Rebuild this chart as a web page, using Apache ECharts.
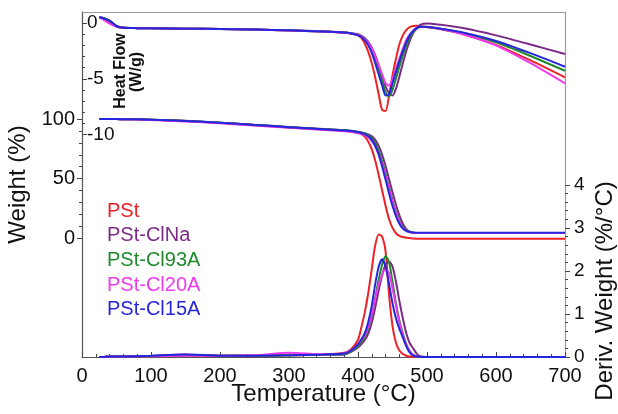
<!DOCTYPE html>
<html>
<head>
<meta charset="utf-8">
<script src="https://cdn.jsdelivr.net/npm/echarts@6/dist/echarts.min.js"></script>
<style>
  html, body { margin: 0; padding: 0; background: #fff; }
  .main { width: 618px; height: 414px; }
</style>
</head>
<body>
<div class="main" id="main"></div>
<script>
// temperature grid (°C) shared by all curves
var temps = [25, 30, 40, 50, 60, 80, 100, 150, 200, 250, 300, 350, 380, 390, 400, 405, 410, 415, 420, 425,
    430, 435, 440, 445, 450, 455, 460, 465, 470, 475, 480, 485, 490, 500, 520, 550, 600, 650, 700];

var names = ['PSt', 'PSt-ClNa', 'PSt-Cl93A', 'PSt-Cl20A', 'PSt-Cl15A'];
var colors = ['#ec2227', '#7b2a88', '#1f8a2c', '#ee3aee', '#2626dc'];

// heat flow (W/g)
var hfPSt   = [0.55, 0.4, 0.0, -0.3, -0.42, -0.45, -0.46, -0.5, -0.53, -0.58, -0.66, -0.76, -0.86, -0.93, -1.1, -1.35, -1.85, -2.6, -3.6, -4.9,
    -6.4, -7.8, -7.9, -6.5, -4.7, -3.2, -1.9, -1.1, -0.6, -0.35, -0.25, -0.24, -0.27, -0.35, -0.55, -0.95, -1.95, -3.35, -4.87];
var hfClNa  = [0.5, 0.48, 0.2, -0.25, -0.4, -0.45, -0.46, -0.5, -0.53, -0.58, -0.65, -0.74, -0.84, -0.9, -1.0, -1.15, -1.35, -1.7, -2.2, -2.9,
    -3.8, -4.8, -5.7, -6.3, -6.5, -5.9, -4.8, -3.6, -2.5, -1.6, -0.9, -0.45, -0.15, -0.03, -0.15, -0.42, -1.1, -1.92, -2.78];
var hfCl93A = [0.5, 0.48, 0.2, -0.25, -0.4, -0.45, -0.46, -0.5, -0.53, -0.58, -0.65, -0.75, -0.85, -0.92, -1.05, -1.2, -1.45, -1.85, -2.4, -3.2,
    -4.2, -5.2, -6.2, -6.6, -6.0, -5.0, -3.9, -2.9, -2.0, -1.3, -0.8, -0.5, -0.35, -0.33, -0.5, -0.85, -1.72, -2.95, -4.28];
var hfCl20A = [0.6, 0.35, -0.05, -0.3, -0.42, -0.45, -0.46, -0.5, -0.53, -0.58, -0.66, -0.76, -0.87, -0.94, -1.05, -1.2, -1.45, -1.8, -2.3, -3.0,
    -3.8, -4.6, -5.4, -5.6, -5.0, -4.1, -3.2, -2.3, -1.5, -1.0, -0.65, -0.42, -0.33, -0.35, -0.52, -0.95, -2.0, -3.6, -5.41];
var hfCl15A = [0.5, 0.45, 0.22, -0.28, -0.42, -0.45, -0.46, -0.5, -0.53, -0.58, -0.65, -0.75, -0.85, -0.93, -1.1, -1.25, -1.55, -2.0, -2.7, -3.6,
    -4.6, -5.6, -6.5, -6.4, -5.4, -4.4, -3.4, -2.5, -1.7, -1.1, -0.7, -0.45, -0.33, -0.35, -0.5, -0.82, -1.6, -2.7, -3.92];

// weight (%)
var wPSt   = [100, 100, 100, 100, 99.9, 99.8, 99.5, 98.3, 96.8, 94.8, 93.0, 91.2, 90.2, 89.6, 88.5, 87.3, 85.0, 81.0, 74.5, 65,
    53, 40, 27, 16, 8.5, 4, 1.8, 0.8, 0.3, 0, -0.3, -0.5, -0.5, -0.5, -0.5, -0.5, -0.5, -0.5, -0.5];
var wClNa  = [100, 100, 100, 100, 99.9, 99.8, 99.5, 98.5, 97.0, 95.2, 93.4, 91.7, 90.7, 90.2, 89.3, 88.8, 88.2, 87.2, 85.5, 82.5,
    77.5, 70, 60.5, 49.5, 38.5, 28, 19, 12, 7.5, 5.3, 4.5, 4.3, 4.3, 4.3, 4.3, 4.3, 4.3, 4.3, 4.3];
var wCl93A = [100, 100, 100, 100, 99.9, 99.8, 99.5, 98.4, 96.9, 95.0, 93.2, 91.5, 90.5, 90.0, 89.2, 88.6, 87.8, 86.3, 84, 80,
    73.5, 64.5, 54, 42.5, 31.5, 22, 14.5, 9.5, 6.5, 5, 4.5, 4.3, 4.3, 4.3, 4.3, 4.3, 4.3, 4.3, 4.3];
var wCl20A = [100, 100, 100, 100, 99.9, 99.7, 99.3, 98.0, 96.4, 94.5, 92.7, 90.9, 89.8, 89.2, 88.3, 87.5, 86.3, 84.5, 81.5, 77,
    70.5, 62, 52, 41, 30.5, 21, 13.5, 8.5, 6, 4.8, 4.3, 4.2, 4.2, 4.2, 4.2, 4.2, 4.2, 4.2, 4.2];
var wCl15A = [100, 100, 100, 100, 99.9, 99.8, 99.5, 98.4, 96.9, 95.0, 93.2, 91.4, 90.4, 89.9, 89.0, 88.3, 87.2, 85.5, 82.5, 77.5,
    70, 60, 49, 37.5, 27, 18.5, 12, 8, 6, 5, 4.6, 4.5, 4.5, 4.5, 4.5, 4.5, 4.5, 4.5, 4.5];

// derivative weight (%/°C)
var dPSt   = [0, 0, 0.01, 0.01, 0.01, 0.02, 0.02, 0.03, 0.03, 0.03, 0.04, 0.06, 0.1, 0.18, 0.4, 0.7, 1.05, 1.5, 2.05, 2.6,
    2.85, 2.8, 2.45, 1.45, 0.72, 0.33, 0.15, 0.07, 0.03, 0.01, 0, 0, 0, 0, 0, 0, 0, 0, 0];
var dClNa  = [0, 0, 0.01, 0.01, 0.01, 0.02, 0.03, 0.06, 0.03, 0.03, 0.04, 0.05, 0.06, 0.12, 0.22, 0.3, 0.4, 0.55, 0.8, 1.15,
    1.55, 1.9, 2.15, 2.22, 2.1, 1.75, 1.3, 0.9, 0.55, 0.32, 0.2, 0.08, 0.02, 0, 0, 0, 0, 0, 0];
var dCl93A = [0, 0, 0.01, 0.01, 0.01, 0.02, 0.02, 0.04, 0.03, 0.03, 0.04, 0.05, 0.07, 0.13, 0.26, 0.35, 0.48, 0.68, 0.98, 1.38,
    1.8, 2.15, 2.35, 2.2, 1.75, 1.25, 0.85, 0.55, 0.3, 0.14, 0.05, 0.01, 0, 0, 0, 0, 0, 0, 0];
var dCl20A = [0, 0, 0.01, 0.01, 0.01, 0.02, 0.02, 0.03, 0.03, 0.04, 0.1, 0.06, 0.09, 0.16, 0.3, 0.4, 0.52, 0.72, 1.0, 1.35,
    1.68, 1.92, 2.05, 1.95, 1.6, 1.2, 0.8, 0.5, 0.28, 0.13, 0.05, 0.01, 0, 0, 0, 0, 0, 0, 0];
var dCl15A = [0, 0, 0.01, 0.01, 0.01, 0.02, 0.03, 0.06, 0.03, 0.03, 0.04, 0.06, 0.08, 0.15, 0.3, 0.42, 0.56, 0.82, 1.2, 1.7,
    2.1, 2.27, 2.1, 1.7, 1.25, 0.9, 0.65, 0.45, 0.25, 0.1, 0.03, 0.01, 0, 0, 0, 0, 0, 0, 0];

var heatFlow = [hfPSt, hfClNa, hfCl93A, hfCl20A, hfCl15A];
var weight = [wPSt, wClNa, wCl93A, wCl20A, wCl15A];
var deriv = [dPSt, dClNa, dCl93A, dCl20A, dCl15A];

var weightTicks = [0, 50, 100];
var weightMinor = [10, 20, 30, 40, 60, 70, 80, 90];
var heatTicks = [0, -5, -10];
var heatMinor = [-1, -2, -3, -4, -6, -7, -8, -9];
var derivTicks = [0, 1, 2, 3, 4];
var derivMinor = [0.2, 0.4, 0.6, 0.8, 1.2, 1.4, 1.6, 1.8, 2.2, 2.4, 2.6, 2.8, 3.2, 3.4, 3.6, 3.8];

var font = 'Liberation Sans, Arial, sans-serif';
var myChart = echarts.init(document.getElementById('main'));

function pairs(vals) {
    return temps.map(function (t, i) { return [t, vals[i]]; });
}

function lineSeries(name, color, yIdx, vals) {
    return {
        name: name,
        type: 'line',
        yAxisIndex: yIdx,
        data: pairs(vals),
        showSymbol: false,
        smooth: 0.25,
        animation: false,
        lineStyle: { color: color, width: 2 },
        itemStyle: { color: color }
    };
}

function tickOnly(position, min, max, values, inside, len) {
    return {
        type: 'value', position: position, min: min, max: max,
        axisLine: { show: false, onZero: false },
        axisTick: { show: true, inside: inside, length: len, customValues: values, lineStyle: { color: '#444' } },
        axisLabel: { show: false },
        splitLine: { show: false }
    };
}

var series = [];
[heatFlow, weight, deriv].forEach(function (group, g) {
    var yIdx = [2, 0, 4][g];
    group.forEach(function (vals, i) {
        series.push(lineSeries(names[i], colors[i], yIdx, vals));
    });
});

var option = {
    animation: false,
    textStyle: { fontFamily: font },
    grid: { left: 82, right: 53, top: 12, bottom: 57, containLabel: false, outerBoundsMode: 'none' },
    legend: {
        orient: 'vertical', left: 102, top: 201, padding: 0,
        icon: 'none', itemWidth: 0, itemHeight: 20, itemGap: 4.7,
        textStyle: { fontSize: 20, fontFamily: font },
        data: names.map(function (n, i) { return { name: n, textStyle: { color: colors[i] } }; })
    },
    xAxis: [{
        type: 'value', min: 0, max: 700, interval: 100, position: 'bottom',
        name: 'Temperature (°C)', nameLocation: 'middle', nameGap: 25, nameMoveOverlap: false,
        nameTextStyle: { fontSize: 24, color: '#111', fontFamily: font },
        axisLine: { onZero: false, lineStyle: { color: '#555', width: 1.2 } },
        axisTick: { inside: true, length: 5, lineStyle: { color: '#444' } },
        minorTick: { show: true, splitNumber: 5, length: 3, lineStyle: { color: '#444' } },
        axisLabel: { fontSize: 20, color: '#111', margin: 9 },
        splitLine: { show: false }
    }, {
        type: 'value', min: 0, max: 700, position: 'top',
        axisLine: { onZero: false, lineStyle: { color: '#999' } },
        axisTick: { show: false }, axisLabel: { show: false }, splitLine: { show: false }
    }],
    yAxis: [{
        // weight (%)
        type: 'value', position: 'left', min: -100, max: 190,
        name: 'Weight (%)', nameLocation: 'middle', nameGap: 52, nameMoveOverlap: false,
        nameTextStyle: { fontSize: 24, color: '#111', fontFamily: font },
        axisLine: { show: true, onZero: false, lineStyle: { color: '#555', width: 1.2 } },
        axisTick: { show: true, length: 5, customValues: weightTicks, lineStyle: { color: '#444' } },
        axisLabel: { fontSize: 20, color: '#111', margin: 7, customValues: weightTicks },
        splitLine: { show: false }
    },
    tickOnly('left', -100, 190, weightMinor, false, 3),
    {
        // heat flow (W/g), drawn inside the frame
        type: 'value', position: 'left', min: -30, max: 1,
        axisLine: { show: false, onZero: false },
        axisTick: { show: true, inside: true, length: 5, customValues: heatTicks, lineStyle: { color: '#444' } },
        axisLabel: { inside: true, fontSize: 19, color: '#111', margin: 5, customValues: heatTicks },
        splitLine: { show: false }
    },
    tickOnly('left', -30, 1, heatMinor, true, 3),
    {
        // derivative weight (%/°C)
        type: 'value', position: 'right', min: 0, max: 8.02,
        axisLine: { show: true, onZero: false, lineStyle: { color: '#999', width: 1.2 } },
        axisTick: { show: true, length: 5, customValues: derivTicks, lineStyle: { color: '#444' } },
        axisLabel: { fontSize: 19, color: '#111', margin: 9, customValues: derivTicks },
        splitLine: { show: false }
    },
    tickOnly('right', 0, 8.02, derivMinor, false, 3)
    ],
    graphic: [{
        type: 'text', x: 121, y: 71, rotation: Math.PI / 2,
        style: { text: 'Heat Flow', fontSize: 16, fontWeight: 'bold', fontFamily: font, fill: '#111', align: 'center', verticalAlign: 'middle' }
    }, {
        type: 'text', x: 137, y: 72, rotation: Math.PI / 2,
        style: { text: '(W/g)', fontSize: 16, fontWeight: 'bold', fontFamily: font, fill: '#111', align: 'center', verticalAlign: 'middle' }
    }, {
        type: 'text', x: 605, y: 291, rotation: Math.PI / 2,
        style: { text: 'Deriv. Weight (%/°C)', fontSize: 24, fontFamily: font, fill: '#111', align: 'center', verticalAlign: 'middle' }
    }],
    series: series
};

myChart.setOption(option);
</script>
</body>
</html>
